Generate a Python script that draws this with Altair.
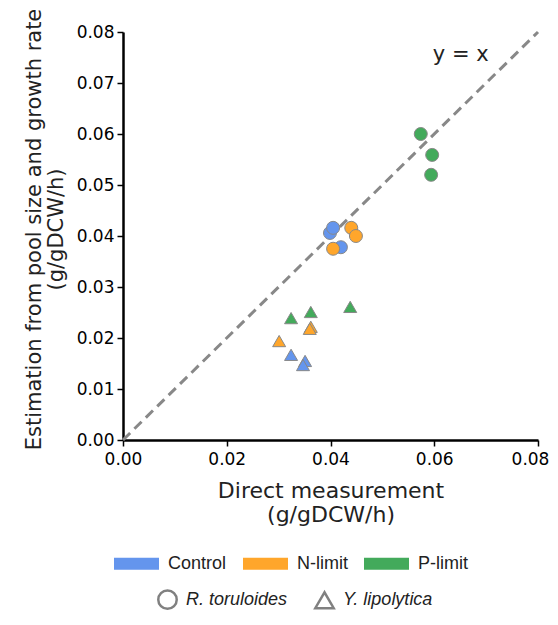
import altair as alt
import pandas as pd

# ---- data ----
x_vals = [0.0574, 0.0596, 0.0594, 0.0399, 0.0405, 0.0420, 0.0440, 0.0449, 0.0405,
          0.0324, 0.0362, 0.0438, 0.0301, 0.0362, 0.0360, 0.0324, 0.0351, 0.0347]
y_vals = [0.0600, 0.0559, 0.0520, 0.0406, 0.0416, 0.0378, 0.0416, 0.0400, 0.0375,
          0.0239, 0.0251, 0.0261, 0.0194, 0.0222, 0.0218, 0.0167, 0.0155, 0.0147]
conditions = ["P-limit", "P-limit", "P-limit", "Control", "Control", "Control",
              "N-limit", "N-limit", "N-limit",
              "P-limit", "P-limit", "P-limit", "N-limit", "N-limit", "N-limit",
              "Control", "Control", "Control"]
species = ["R. toruloides"] * 9 + ["Y. lipolytica"] * 9

cond_order = ["Control", "N-limit", "P-limit"]
cond_colors = ["#6495ED", "#FFA62B", "#43AA5B"]
species_order = ["R. toruloides", "Y. lipolytica"]
species_shapes = ["circle", "triangle-up"]

diag_x = [0.0, 0.08]
diag_y = [0.0, 0.08]
label_x = [0.0651]
label_y = [0.0754]
label_text = ["y = x"]

df = pd.DataFrame({"x": x_vals, "y": y_vals, "cond": conditions, "sp": species})
diag = pd.DataFrame({"x": diag_x, "y": diag_y})
lab = pd.DataFrame({"x": label_x, "y": label_y, "t": label_text})

ticks = [0.0, 0.01, 0.02, 0.03, 0.04, 0.05, 0.06, 0.07, 0.08]
xticks = [0.0, 0.02, 0.04, 0.06, 0.08]

xscale = alt.Scale(domain=[0, 0.08], nice=False)
yscale = alt.Scale(domain=[0, 0.08], nice=False)

xaxis = alt.Axis(values=xticks, format=".2f", title=["Direct measurement", "(g/gDCW/h)"],
                 labelFont="DejaVu Sans", labelFontSize=17, labelColor="black",
                 titleFont="DejaVu Sans", titleFontSize=22, titleFontWeight="normal",
                 titleColor="#222", titlePadding=13, titleLineHeight=24,
                 grid=False, domainColor="black", domainWidth=2.5,
                 tickColor="black", tickWidth=1.5, tickSize=6, labelPadding=5,
                 labelFlush=False,
                 labelOffset={"condition": {"test": "datum.value >= 0.079", "value": -8},
                              "value": 0})
yaxis = alt.Axis(values=ticks, format=".2f",
                 title=["Estimation from pool size and growth rate", "(g/gDCW/h)"],
                 labelFont="DejaVu Sans", labelFontSize=17, labelColor="black",
                 titleFont="DejaVu Sans", titleFontSize=21, titleFontWeight="normal",
                 titleColor="#222", titlePadding=10, titleLineHeight=22, titleY=197,
                 grid=False, domainColor="black", domainWidth=2.5,
                 tickColor="black", tickWidth=1.5, tickSize=6, labelPadding=3,
                 labelFlush=False)

line = alt.Chart(diag).mark_line(color="#888888", strokeWidth=3, strokeDash=[10, 6]).encode(
    x=alt.X("x:Q", scale=xscale, axis=xaxis),
    y=alt.Y("y:Q", scale=yscale, axis=yaxis),
)

text = alt.Chart(lab).mark_text(font="DejaVu Sans", fontSize=21, color="#222").encode(
    x="x:Q", y="y:Q", text="t:N"
)

points = alt.Chart(df).mark_point(filled=True, size=169, stroke="#888888", strokeWidth=1,
                                  opacity=1, fillOpacity=1).encode(
    x="x:Q",
    y="y:Q",
    fill=alt.Fill("cond:N", scale=alt.Scale(domain=cond_order, range=cond_colors),
                  legend=alt.Legend(title=None, orient="none", legendX=-9, legendY=509,
                                    direction="horizontal", columns=3,
                                    symbolType="M-1,-0.267L1,-0.267L1,0.267L-1,0.267Z",
                                    symbolSize=2025, symbolStrokeWidth=0,
                                    symbolOpacity=1, labelFont="Liberation Sans",
                                    labelFontSize=18, labelColor="#222",
                                    labelOffset=9, columnPadding=16)),
    shape=alt.Shape("sp:N", scale=alt.Scale(domain=species_order, range=species_shapes),
                    legend=alt.Legend(title=None, orient="none", legendX=34, legendY=557,
                                      direction="horizontal", columns=2,
                                      symbolSize=340, symbolStrokeColor="#808080",
                                      symbolFillColor="white", symbolStrokeWidth=2.5,
                                      labelFont="Liberation Sans", labelFontSize=18,
                                      labelFontStyle="italic", labelColor="#222",
                                      labelOffset=8, columnPadding=22)),
)

chart = alt.layer(line, points, text).properties(
    width=415, height=408,
    padding={"left": 115, "top": 24, "right": 12, "bottom": 173},
    autosize=alt.AutoSizeParams(type="none"),
).configure_view(stroke=None)

chart.save("out.html", embed_options={"renderer": "svg", "actions": False})
